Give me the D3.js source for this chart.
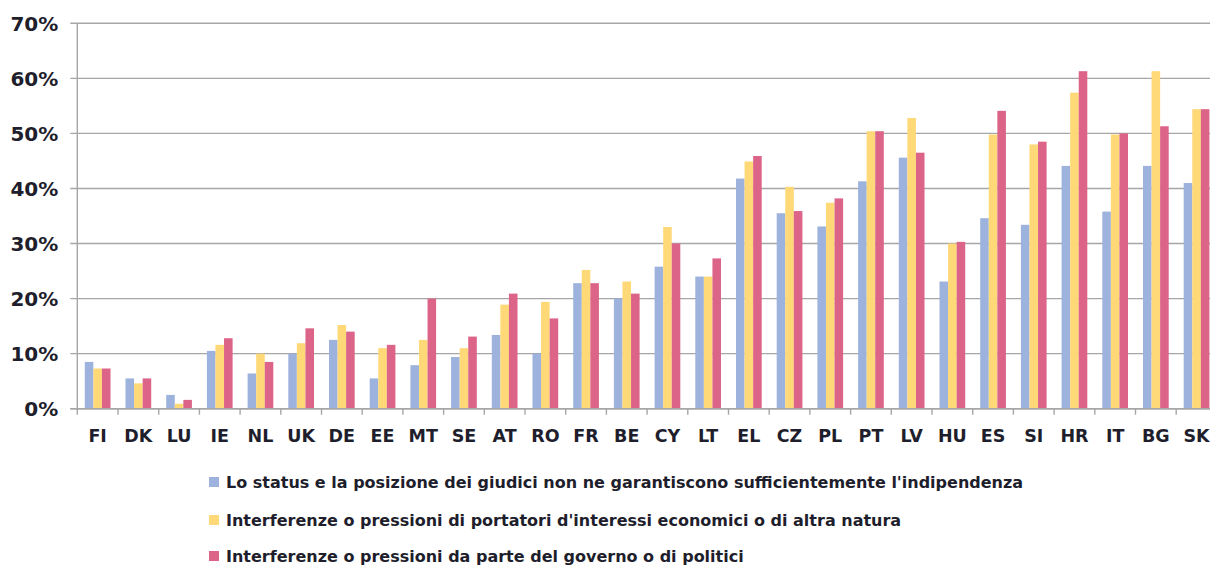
<!DOCTYPE html>
<html>
<head>
<meta charset="utf-8">
<script src="https://cdn.jsdelivr.net/npm/d3@7"></script>
<style>
  body { margin: 0; background: #fff; }
  text { font-family: "DejaVu Sans", Verdana, sans-serif; fill: #1e1e2c; font-weight: bold; }
</style>
</head>
<body>
<div id="dvBody"></div>
<script>
// datos (porcentajes)
var paises = ["FI","DK","LU","IE","NL","UK","DE","EE","MT","SE","AT","RO","FR","BE","CY","LT","EL","CZ","PL","PT","LV","HU","ES","SI","HR","IT","BG","SK"];

var statusGiudici = [8.5,5.5,2.5,10.5,6.4,10.0,12.5,5.5,7.9,9.4,13.4,10.0,22.8,20.0,25.8,24.0,41.8,35.5,33.1,41.3,45.6,23.1,34.6,33.4,44.1,35.8,44.1,41.0];
var pressioniEconomiche = [7.3,4.6,0.9,11.6,10.0,11.9,15.2,11.0,12.5,11.0,18.9,19.4,25.2,23.1,33.0,24.0,44.9,40.3,37.4,50.4,52.8,30.0,49.8,48.0,57.4,49.8,61.3,54.4];
var pressioniGoverno = [7.3,5.5,1.6,12.8,8.5,14.6,14.0,11.6,20.0,13.1,20.9,16.4,22.8,20.9,30.0,27.3,45.9,35.9,38.2,50.4,46.5,30.3,54.1,48.5,61.3,50.0,51.3,54.4];

var serie = [
  "Lo status e la posizione dei giudici non ne garantiscono sufficientemente l'indipendenza",
  "Interferenze o pressioni di portatori d'interessi economici o di altra natura",
  "Interferenze o pressioni da parte del governo o di politici"
];
var colores = ["#9db3de", "#ffd878", "#dc6488"];
var valoresY = [0, 10, 20, 30, 40, 50, 60, 70];

var datos = paises.map(function(p, i) {
  return { pais: p, valores: [statusGiudici[i], pressioniEconomiche[i], pressioniGoverno[i]] };
});

// margenes del area de trabajo
var margin = {top: 23.3, left: 77.3},
    width = 1139.6,
    height = 385.4;

var svg = d3.select("#dvBody")
  .append("svg")
  .attr("width", 1210)
  .attr("height", 565)
  .append("g")
  .attr("transform", "translate(" + margin.left + "," + margin.top + ")");

// escalas
var x0 = d3.scaleBand()
  .domain(paises)
  .range([0, width])
  .padding(0);

var x1 = d3.scaleBand()
  .domain([0, 1, 2])
  .range([0, x0.bandwidth()])
  .paddingInner(0)
  .paddingOuter(0.875);

var y = d3.scaleLinear()
  .domain([0, 70])
  .range([height, 0]);

// grid horizontal + eje Y
svg.append("g")
  .selectAll("line")
  .data(valoresY)
  .join("line")
  .attr("x1", -7)
  .attr("x2", width)
  .attr("y1", d => y(d))
  .attr("y2", d => y(d))
  .attr("stroke", "#a6a6a6")
  .attr("stroke-width", 1.4);

svg.append("line")
  .attr("x1", 0).attr("x2", 0)
  .attr("y1", 0).attr("y2", height)
  .attr("stroke", "#a6a6a6")
  .attr("stroke-width", 1.4);

svg.append("g")
  .selectAll("text")
  .data(valoresY)
  .join("text")
  .attr("x", -19)
  .attr("y", d => y(d))
  .attr("dy", "0.36em")
  .attr("text-anchor", "end")
  .style("font-size", "20px")
  .text(d => d + "%");

// barras
var grupos = svg.append("g")
  .selectAll("g")
  .data(datos)
  .join("g")
  .attr("transform", d => "translate(" + x0(d.pais) + ",0)");

grupos.selectAll("rect")
  .data(d => d.valores)
  .join("rect")
  .attr("x", (d, i) => x1(i))
  .attr("y", d => y(d))
  .attr("width", x1.bandwidth())
  .attr("height", d => height - y(d))
  .attr("fill", (d, i) => colores[i]);

// eje X con marcas entre categorias
var ejeX = svg.append("g")
  .attr("transform", "translate(0," + height + ")");

ejeX.append("line")
  .attr("x1", -7).attr("x2", width)
  .attr("stroke", "#a6a6a6")
  .attr("stroke-width", 1.4);

ejeX.selectAll(".marca")
  .data(paises.concat(["fin"]))
  .join("line")
  .attr("class", "marca")
  .attr("x1", (d, i) => i * x0.step())
  .attr("x2", (d, i) => i * x0.step())
  .attr("y1", 0)
  .attr("y2", 6)
  .attr("stroke", "#a6a6a6")
  .attr("stroke-width", 1.4);

ejeX.selectAll(".etiqueta")
  .data(paises)
  .join("text")
  .attr("class", "etiqueta")
  .attr("x", d => x0(d) + x0.bandwidth() / 2)
  .attr("y", 33)
  .attr("text-anchor", "middle")
  .style("font-size", "17.5px")
  .text(d => d);

// leyenda
var leyenda = d3.select("svg").append("g")
  .selectAll("g")
  .data(serie)
  .join("g")
  .attr("transform", (d, i) => "translate(209," + [482, 520, 556][i] + ")");

leyenda.append("rect")
  .attr("x", 0)
  .attr("y", -5)
  .attr("width", 10)
  .attr("height", 10)
  .attr("fill", (d, i) => colores[i]);

leyenda.append("text")
  .attr("x", 17)
  .attr("dy", "0.36em")
  .style("font-size", "16px")
  .text(d => d);
</script>
</body>
</html>
